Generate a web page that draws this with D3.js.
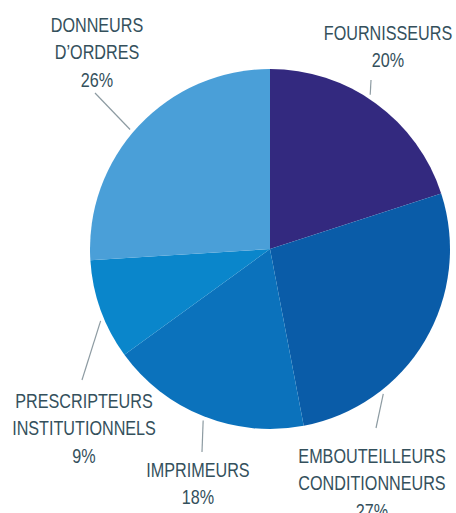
<!DOCTYPE html>
<html lang="fr">
<head>
<meta charset="utf-8">
<title>Répartition</title>
<script src="https://cdn.jsdelivr.net/npm/d3@7"></script>
<style>
  body { margin: 0; background: #fff; }
  text { font-family: "Liberation Sans", Arial, sans-serif; }
</style>
</head>
<body>
<script>
// data
var categories = ["FOURNISSEURS", "EMBOUTEILLEURS CONDITIONNEURS", "IMPRIMEURS", "PRESCRIPTEURS INSTITUTIONNELS", "DONNEURS D\u2019ORDRES"];
var labelLines = [["FOURNISSEURS"], ["EMBOUTEILLEURS", "CONDITIONNEURS"], ["IMPRIMEURS"], ["PRESCRIPTEURS", "INSTITUTIONNELS"], ["DONNEURS", "D\u2019ORDRES"]];
var values = [20, 27, 18, 9, 26];

var colors = ["#33297f", "#0a5ca8", "#0b72bc", "#0a86cb", "#4a9fd8"];

// label placement (x, first baseline, leader angle in degrees, leader outer end)
var labelPos = [
  { x: 388, y: 40, ang: 33, end: [371, 80] },
  { x: 372, y: 463, ang: 142, end: [376, 428] },
  { x: 198, y: 477, ang: 201.3, end: [202, 452] },
  { x: 84, y: 408, ang: 247, end: [82, 380] },
  { x: 97, y: 32, ang: 310.5, end: [95, 93] }
];

var w = 456, h = 513;
var cx = 270, cy = 249, r = 180;
var lineH = 27.5;
var squeeze = 0.77; // condensed look

var svg = d3.select('body').append('svg')
  .attr('width', w)
  .attr('height', h);

var pie = d3.pie().sort(null).value(function(d) { return d; });
var arc = d3.arc().innerRadius(0).outerRadius(r);
var color = d3.scaleOrdinal().domain(categories).range(colors);

var arcs = pie(values);

var g = svg.append('g').attr('transform', 'translate(' + cx + ',' + cy + ')');

g.selectAll('path')
  .data(arcs)
  .enter()
  .append('path')
  .attr('d', arc)
  .attr('fill', function(d, i) { return color(categories[i]); });

// leader lines
svg.selectAll('line.leader')
  .data(arcs)
  .enter()
  .append('line')
  .attr('class', 'leader')
  .attr('x1', function(d, i) { return cx + (r + 4) * Math.sin(labelPos[i].ang * Math.PI / 180); })
  .attr('y1', function(d, i) { return cy - (r + 4) * Math.cos(labelPos[i].ang * Math.PI / 180); })
  .attr('x2', function(d, i) { return labelPos[i].end[0]; })
  .attr('y2', function(d, i) { return labelPos[i].end[1]; })
  .attr('stroke', '#8d9ba2')
  .attr('stroke-width', 1.2);

// labels
var labels = svg.selectAll('text.lbl')
  .data(arcs)
  .enter()
  .append('text')
  .attr('class', 'lbl')
  .attr('transform', function(d, i) {
    return 'translate(' + labelPos[i].x + ',' + labelPos[i].y + ') scale(' + squeeze + ',1)';
  })
  .attr('text-anchor', 'middle')
  .attr('font-size', '21px')
  .attr('fill', '#34505c');

labels.each(function(d, i) {
  var t = d3.select(this);
  var lines = labelLines[i].concat([values[i] + '%']);
  lines.forEach(function(s, k) {
    t.append('tspan')
      .attr('x', 0)
      .attr('y', k * lineH)
      .text(s);
  });
});
</script>
</body>
</html>
